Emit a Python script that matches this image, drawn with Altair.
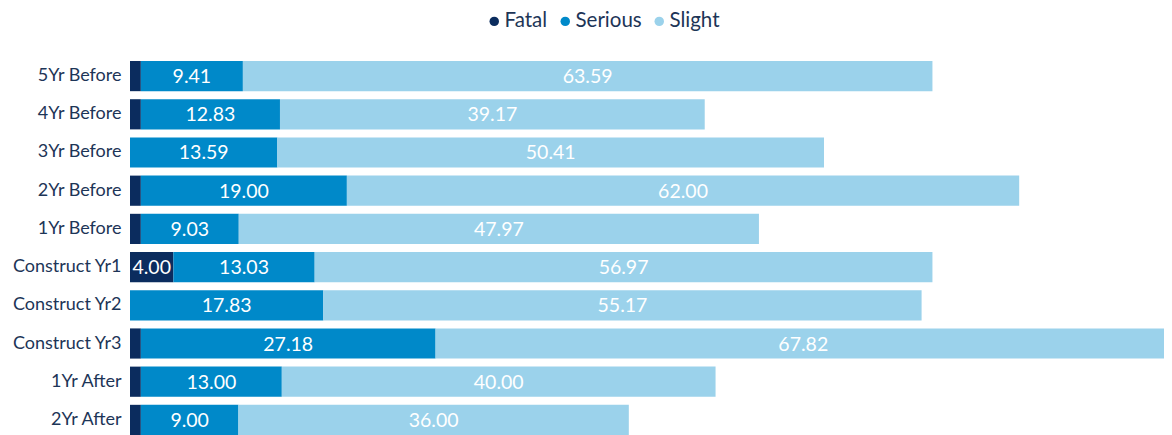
import altair as alt
import pandas as pd

categories = ["5Yr Before", "4Yr Before", "3Yr Before", "2Yr Before", "1Yr Before",
              "Construct Yr1", "Construct Yr2", "Construct Yr3", "1Yr After", "2Yr After"]
fatal = [1.00, 1.00, 0.00, 1.00, 1.00, 4.00, 0.00, 1.00, 1.00, 1.00]
serious = [9.41, 12.83, 13.59, 19.00, 9.03, 13.03, 17.83, 27.18, 13.00, 9.00]
slight = [63.59, 39.17, 50.41, 62.00, 47.97, 56.97, 55.17, 67.82, 40.00, 36.00]

series = ["Fatal", "Serious", "Slight"]
colors = ["#0b2c5e", "#0089c9", "#9bd2eb"]

rows = []
for i, c in enumerate(categories):
    for k, (s, vals) in enumerate(zip(series, [fatal, serious, slight])):
        rows.append({"cat": c, "type": s, "value": vals[i], "ord": k})
df = pd.DataFrame(rows)

FONT = "Lato"
TXT = "#1d3557"

base = alt.Chart(df).transform_stack(
    stack="value", groupby=["cat"], as_=["x0", "x1"],
    sort=[alt.SortField("ord", order="ascending")]
).transform_calculate(mid="(datum.x0 + datum.x1) / 2")

y = alt.Y("cat:N", sort=categories, title=None,
          scale=alt.Scale(paddingInner=0.21, paddingOuter=0),
          axis=alt.Axis(ticks=False, domain=False, labelFont=FONT, labelFontSize=18,
                        labelColor=TXT, labelPadding=9))

xscale = alt.Scale(domain=[0, 96], nice=False, zero=True, range=[0, 1041])

bars = base.mark_bar().encode(
    y=y,
    x=alt.X("x0:Q", scale=xscale, axis=None),
    x2="x1:Q",
    color=alt.Color("type:N", scale=alt.Scale(domain=series, range=colors),
                    legend=alt.Legend(title=None, orient="none", direction="horizontal",
                                      legendX=354, legendY=-50, symbolType="circle",
                                      symbolSize=90, symbolStrokeWidth=0, labelFont=FONT,
                                      labelFontSize=20.5, labelColor=TXT, columnPadding=7,
                                      symbolOffset=0, labelOffset=0, padding=0)),
)

labels = base.transform_filter("datum.value >= 2").mark_text(
    color="white", font=FONT, fontSize=19.5, baseline="middle", align="center", dy=1
).encode(
    y=alt.Y("cat:N", sort=categories),
    x=alt.X("mid:Q", scale=xscale),
    text=alt.Text("value:Q", format=".2f"),
)

chart = (bars + labels).properties(
    width=1034, height=374,
    autosize=alt.AutoSizeParams(type="none"),
    padding={"left": 122, "top": 53, "right": 0, "bottom": 0},
).configure_view(stroke=None)

chart.save("out.html", embed_options={"renderer": "svg", "actions": False})
